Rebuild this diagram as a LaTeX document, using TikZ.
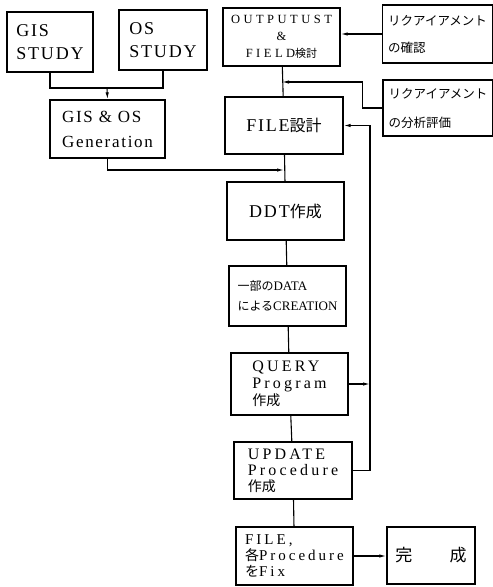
\documentclass[tikz,border=0pt]{standalone}
\usepackage{fontspec}
\setmainfont{Liberation Serif}
\newfontfamily\jp{Noto Sans CJK JP}
\usetikzlibrary{arrows.meta,calc}
\newcommand{\fs}[3]{\fontsize{#1}{#2}\selectfont\addfontfeature{LetterSpace=#3}}
\tikzset{box/.style={draw,line width=1.3pt,align=left,inner sep=0pt},
arr/.style={-{Latex[length=7pt,width=3.4pt]}}}

\begin{document}
\begin{tikzpicture}[x=1pt,y=-1pt,line width=1.1pt]
\useasboundingbox(0,0)rectangle(493,587);
\node[box,minimum width=86,minimum height=60,font=\fs{18}{23}{10}](gis)at(50,42){GIS\\STUDY};
\node[box,minimum width=88,minimum height=60,font=\fs{18}{23}{10}](os)at(163,40){OS\\STUDY};
\node[box,minimum width=115,minimum height=58,font=\fs{17}{25}{10}](gen)at(107.5,129){GIS \& OS\\Generation};
\node[box,align=center,minimum width=117,minimum height=58,font=\fs{12.5}{17}{28}](outp)at(281.5,37){OUTPUTUST\\\&\\FIELD{\jp\fontsize{11}{17}\selectfont 検討}};
\node[box,minimum width=110,minimum height=58,font=\fontsize{12.5}{27}\selectfont\jp](req1)at(437.5,34){リクアイアメント\\の確認};
\node[box,minimum width=110,minimum height=56,font=\fontsize{12.5}{29}\selectfont\jp](req2)at(438,108){リクアイアメント\\の分析評価};
\node[box,minimum width=118,minimum height=57,font=\fs{18}{20}{10}](file)at(284,125.5){FILE{\jp\fontsize{16}{20}\selectfont 設計}};
\node[box,minimum width=117,minimum height=58,font=\fs{18}{20}{10}](ddt)at(285.5,211){DDT{\jp\fontsize{16}{20}\selectfont 作成}};
\node[box,minimum width=117,minimum height=60,font=\fontsize{13}{20}\selectfont](part)at(287.5,296){{\jp\fontsize{12}{20}\selectfont 一部の}DATA\\{\jp\fontsize{12}{20}\selectfont による}CREATION};
\node[box,minimum width=117,minimum height=62,font=\fs{16}{17}{20}](query)at(289.5,384){QUERY\\Program\\{\jp\fontsize{14}{17}\selectfont 作成}};
\node[box,minimum width=118,minimum height=57,font=\fs{16}{16}{20}](update)at(293,470.5){UPDATE\\Procedure\\{\jp\fontsize{14}{16}\selectfont 作成}};
\node[box,minimum width=117,minimum height=58,font=\fs{15}{16}{20}](fix)at(294.5,556){FILE,\\{\jp\fontsize{14}{16}\selectfont 各}Procedure\\{\jp\fontsize{14}{16}\selectfont を}Fix};
\node[box,minimum width=88,minimum height=57,font=\fontsize{17}{20}\selectfont\jp](done)at(431,555.5){完\hspace{2.2em}成};
% joins
\coordinate(j1)at(107,88);\coordinate(j2)at(284,170);\coordinate(j3)at(282,82);\coordinate(rail)at(370,300);
\draw(gis.south)|-(j1)-|(os.south);\draw[arr](j1)--(gen.north);
\draw[arr](gen.south)|-(j2);
\draw(outp)--(file);\draw(file)--(ddt);\draw(ddt)--(part);\draw(part)--(query);\draw(query)--(update);\draw(update)--(fix);
\draw[arr](req1.west)--(req1.west-|outp.east);
\draw[arr](req2.west)--++(-20,0)|-(j3);
\draw[arr](update.east)-|(rail)|-(file.east);
\draw[arr](query.east)--(query.east-|rail);
\draw[arr](fix.east)--(done.west|-fix.east);
\end{tikzpicture}
\end{document}
